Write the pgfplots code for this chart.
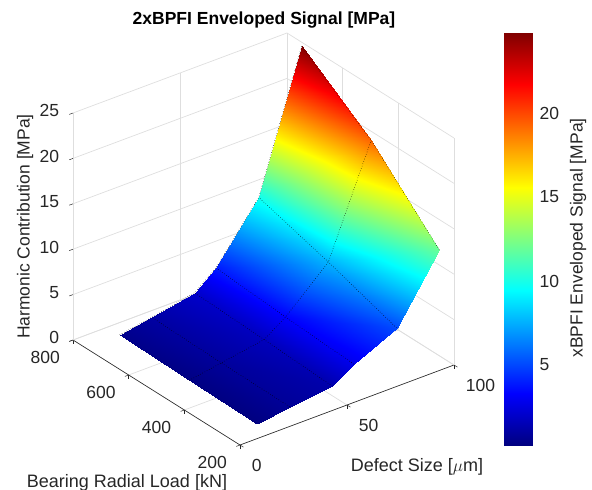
\documentclass[border=0pt]{standalone}
\usepackage{pgfplots}
\usepackage{fontspec}
\setmainfont{Liberation Sans}
\pgfplotsset{compat=1.18}
\usetikzlibrary{calc}
\definecolor{mgray}{rgb}{0.15,0.15,0.15}
\definecolor{ggray}{rgb}{0.87,0.87,0.87}
\pgfplotsset{colormap={mjet}{rgb255(0)=(0,0,128) rgb255(1)=(0,0,255) rgb255(3)=(0,255,255) rgb255(5)=(255,255,0) rgb255(7)=(255,0,0) rgb255(8)=(128,0,0)}}
\begin{document}
\begin{tikzpicture}[x=1pt,y=1pt]
\begin{axis}[
  name=main,
  x={(2.14pt,0.8pt)}, y={(-0.2783pt,0.175pt)}, z={(0pt,9.08pt)},
  xmin=0,xmax=100,ymin=200,ymax=800,zmin=0,zmax=25,
  xtick={0,50,100}, ytick={200,400,600,800}, ztick={0,5,10,15,20,25},
  axis x line*=bottom, axis y line*=left, axis z line*=left,
  axis line style={draw=mgray,line width=0.6pt,-},
  tick style={draw=mgray,line width=0.5pt},
  tick align=outside,
  major tick length=4pt,
  grid=major,
  major grid style={draw=ggray,line width=0.7pt},
  colormap name=mjet,
  point meta min=0.24, point meta max=24.76,
  clip=false,
  font=\fontsize{17.5}{19}\selectfont,
  tick label style={text=mgray},
  /pgf/number format/assume math mode=true,
  xticklabel style={anchor=west,xshift=5pt,yshift=-18pt},
  yticklabel style={anchor=center,xshift=-24pt,yshift=-16pt},
  zticklabel style={anchor=east,xshift=-7pt},
]
\addplot3[surf,shader=interp,mesh/cols=6,point meta=z] table {
14 245 0.24
29 245 0.8
49 245 1.3
59 245 2.84
79 245 5.07
99 245 11.9

14 490 0.3
29 490 0.9
49 490 1.7
59 490 3.3
79 490 7.6
99 490 19.25

14 740 0.5
29 740 1.1
49 740 2.04
59 740 3.9
79 740 9.9
99 740 24.76
};
\addplot3[black,dotted,line width=0.5pt] coordinates {(14,490,0.3)(29,490,0.9)(49,490,1.7)(59,490,3.3)(79,490,7.6)(99,490,19.25)};
\addplot3[black,dotted,line width=0.5pt] coordinates {(29,245,0.8)(29,490,0.9)(29,740,1.1)};
\addplot3[black,dotted,line width=0.5pt] coordinates {(49,245,1.3)(49,490,1.7)(49,740,2.04)};
\addplot3[black,dotted,line width=0.5pt] coordinates {(59,245,2.84)(59,490,3.3)(59,740,3.9)};
\addplot3[black,dotted,line width=0.5pt] coordinates {(79,245,5.07)(79,490,7.6)(79,740,9.9)};
\addplot3[black,dotted,line width=0.5pt] coordinates {(14,740,0.5)(29,740,1.1)(49,740,2.04)(59,740,3.9)(79,740,9.9)(99,740,24.76)};
\addplot3[black,dotted,line width=0.5pt] coordinates {(99,245,11.9)(99,490,19.25)(99,740,24.76)};
\coordinate (O) at (axis cs:0,200,0);
\end{axis}
\begin{axis}[
  at={($(O)+(264pt,0pt)$)}, anchor=south west,
  scale only axis, width=28pt, height=412pt,
  xmin=0,xmax=1,ymin=0.24,ymax=24.76,
  xtick=\empty, ytick={5,10,15,20},
  yticklabel pos=right,
  axis line style={draw=mgray,line width=0.6pt},
  tick style={draw=mgray,line width=0.5pt},
  tick align=inside, major tick length=3pt,
  colormap name=mjet,
  point meta min=0.24, point meta max=24.76,
  font=\fontsize{17.5}{19}\selectfont,
  tick label style={text=mgray},
  yticklabel style={xshift=4pt},
  /pgf/number format/assume math mode=true,
]
\addplot[surf,shader=interp,mesh/cols=2,point meta=y] coordinates {
(0,0.24)(1,0.24)

(0,24.76)(1,24.76)
};
\end{axis}
\begin{scope}[shift={($(O)+(-240pt,-45pt)$)}]
\node[font=\fontsize{17.5}{20}\selectfont\bfseries,text=black] at (264pt,470pt) {2xBPFI Enveloped Signal [MPa]};
\node[font=\fontsize{18}{20}\selectfont,text=mgray] at (417pt,23pt) {Defect Size [$\mu$m]};
\node[font=\fontsize{18}{20}\selectfont,text=mgray] at (127pt,7pt) {Bearing Radial Load [kN]};
\node[font=\fontsize{17.5}{20}\selectfont,text=mgray,rotate=90] at (25pt,263.5pt) {Harmonic Contribution [MPa]};
\node[font=\fontsize{17.5}{20}\selectfont,text=mgray,rotate=90] at (578pt,252pt) {xBPFI Enveloped Signal [MPa]};
\pgfresetboundingbox
\path[use as bounding box] (0,0) rectangle (592pt,490pt);
\end{scope}
\end{tikzpicture}
\end{document}
